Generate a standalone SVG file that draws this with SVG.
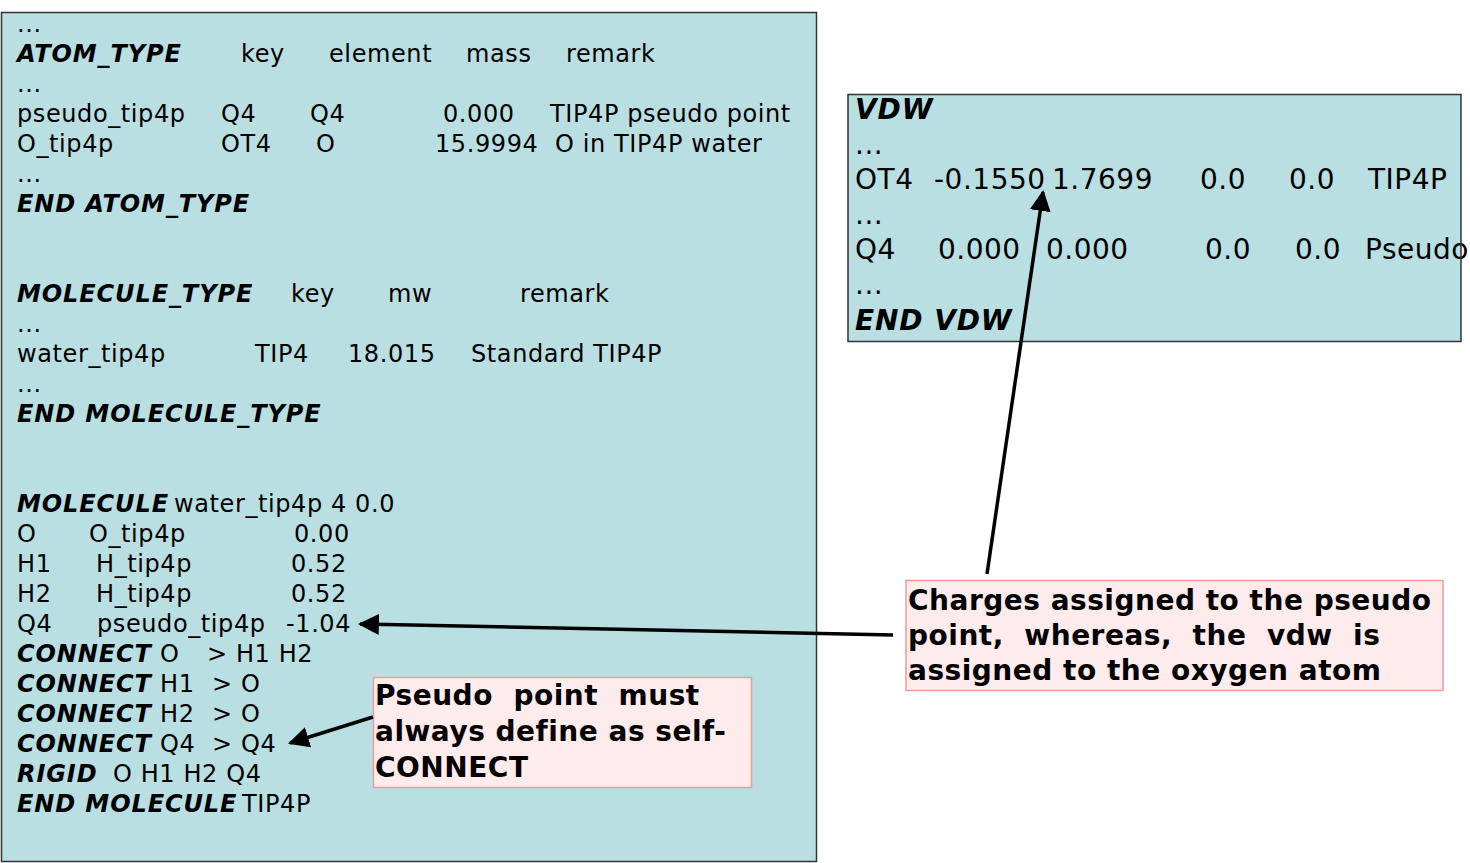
<svg xmlns="http://www.w3.org/2000/svg" width="1470" height="863" viewBox="0 0 1470 863">
<style>
.box{fill:#b9dfe3;stroke:#333;stroke-width:1.5}
.note{fill:#feebeb;stroke:#f29b9b;stroke-width:1.5}
.t{font-family:"DejaVu Sans","Verdana",sans-serif;font-size:24px;fill:#000;letter-spacing:0.6px}
.v{font-family:"DejaVu Sans","Verdana",sans-serif;font-size:28px;fill:#000;letter-spacing:0.5px}
.bi{font-weight:bold;font-style:italic;letter-spacing:0.9px}
.n{font-family:"DejaVu Sans","Verdana",sans-serif;font-size:28px;font-weight:bold;fill:#000;letter-spacing:0.5px}
.c{stroke:#000;stroke-width:3.5;fill:none}
</style>
<defs>
<marker id="ah" viewBox="0 0 10 10" refX="9" refY="5" markerWidth="6" markerHeight="6" markerUnits="strokeWidth" orient="auto">
<path d="M0,0 L10,5 L0,10 z" fill="#000"/>
</marker>
</defs>

<g id="main">
<rect class="box" x="1.5" y="12.5" width="815" height="849"/>
<g class="t">
<text x="17" y="32">...</text>
<text x="17" y="62" class="bi">ATOM_TYPE</text>
<text x="241" y="62">key</text>
<text x="329" y="62">element</text>
<text x="466" y="62">mass</text>
<text x="566" y="62">remark</text>
<text x="17" y="92">...</text>
<text x="17" y="122">pseudo_tip4p</text>
<text x="221" y="122">Q4</text>
<text x="310" y="122">Q4</text>
<text x="443" y="122">0.000</text>
<text x="550" y="122">TIP4P pseudo point</text>
<text x="17" y="152">O_tip4p</text>
<text x="221" y="152">OT4</text>
<text x="316" y="152">O</text>
<text x="435" y="152">15.9994</text>
<text x="555" y="152">O in TIP4P water</text>
<text x="17" y="182">...</text>
<text x="17" y="212" class="bi">END ATOM_TYPE</text>

<text x="17" y="302" class="bi">MOLECULE_TYPE</text>
<text x="291" y="302">key</text>
<text x="388" y="302">mw</text>
<text x="520" y="302">remark</text>
<text x="17" y="332">...</text>
<text x="17" y="362">water_tip4p</text>
<text x="255" y="362">TIP4</text>
<text x="348" y="362">18.015</text>
<text x="471" y="362">Standard TIP4P</text>
<text x="17" y="392">...</text>
<text x="17" y="422" class="bi">END MOLECULE_TYPE</text>

<text x="17" y="512" class="bi">MOLECULE</text>
<text x="174" y="512">water_tip4p 4 0.0</text>
<text x="17" y="542">O</text>
<text x="89" y="542">O_tip4p</text>
<text x="294" y="542">0.00</text>
<text x="17" y="572">H1</text>
<text x="96" y="572">H_tip4p</text>
<text x="291" y="572">0.52</text>
<text x="17" y="602">H2</text>
<text x="96" y="602">H_tip4p</text>
<text x="291" y="602">0.52</text>
<text x="17" y="632">Q4</text>
<text x="97" y="632">pseudo_tip4p</text>
<text x="286" y="632">-1.04</text>
<text x="17" y="662" class="bi">CONNECT</text>
<text x="160" y="662">O</text>
<text x="207" y="662">&gt; H1 H2</text>
<text x="17" y="692" class="bi">CONNECT</text>
<text x="160" y="692">H1</text>
<text x="212" y="692">&gt; O</text>
<text x="17" y="722" class="bi">CONNECT</text>
<text x="160" y="722">H2</text>
<text x="212" y="722">&gt; O</text>
<text x="17" y="752" class="bi">CONNECT</text>
<text x="160" y="752">Q4</text>
<text x="212" y="752">&gt; Q4</text>
<text x="17" y="782" class="bi">RIGID</text>
<text x="113" y="782">O H1 H2 Q4</text>
<text x="17" y="812" class="bi">END MOLECULE</text>
<text x="242" y="812">TIP4P</text>
</g>
</g>

<g id="vdw">
<rect x="848" y="94.5" width="613" height="247" fill="#b9dfe3"/>
<g class="v">
<text x="855" y="119" class="bi">VDW</text>
<text x="855" y="154">...</text>
<text x="855" y="189">OT4</text>
<text x="934" y="189">-0.1550</text>
<text x="1052" y="189">1.7699</text>
<text x="1200" y="189">0.0</text>
<text x="1289" y="189">0.0</text>
<text x="1368" y="189">TIP4P</text>
<text x="855" y="224">...</text>
<text x="855" y="259">Q4</text>
<text x="938" y="259">0.000</text>
<text x="1046" y="259">0.000</text>
<text x="1205" y="259">0.0</text>
<text x="1295" y="259">0.0</text>
<text x="1365" y="259">Pseudo</text>
<text x="855" y="294">...</text>
<text x="855" y="330" class="bi">END VDW</text>
</g>
<rect x="848" y="94.5" width="613" height="247" fill="none" stroke="#333" stroke-width="1.5"/>
</g>

<g id="note-charges">
<rect class="note" x="906" y="580.5" width="537" height="110"/>
<g class="n">
<text x="908" y="610">Charges assigned to the pseudo</text>
<text x="908" y="645" xml:space="preserve">point,  whereas,  the  vdw  is</text>
<text x="908" y="680">assigned to the oxygen atom</text>
</g>
</g>

<g id="note-pseudo">
<rect class="note" x="373.5" y="677.5" width="378" height="110"/>
<g class="n">
<text x="375" y="705" xml:space="preserve">Pseudo  point  must</text>
<text x="375" y="741">always define as self-</text>
<text x="375" y="777">CONNECT</text>
</g>
</g>

<g id="connectors">
<line class="c" x1="987" y1="574" x2="1043" y2="192" marker-end="url(#ah)"/>
<line class="c" x1="893" y1="635" x2="360" y2="624" marker-end="url(#ah)"/>
<line class="c" x1="373" y1="717" x2="290" y2="743" marker-end="url(#ah)"/>
</g>
</svg>
